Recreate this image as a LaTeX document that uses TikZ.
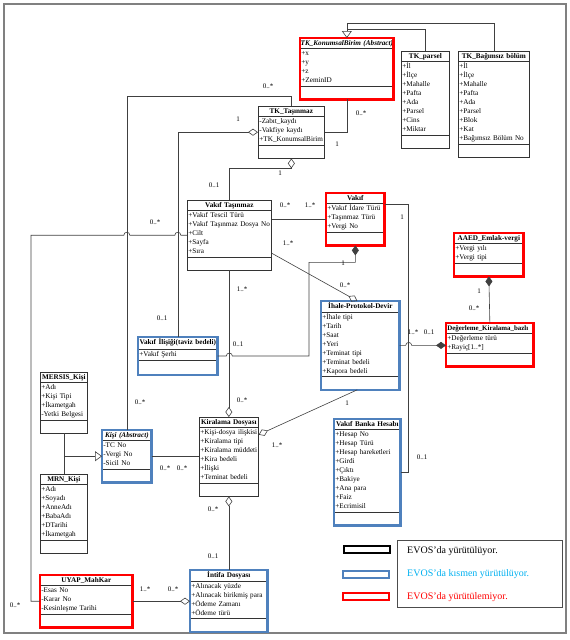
\documentclass[tikz,border=0pt]{standalone}
\usepackage{fontspec}
\setmainfont{Liberation Serif}
\usetikzlibrary{shapes.multipart,arrows.meta}
\definecolor{evosblue}{RGB}{79,129,189}
\definecolor{evoscyan}{RGB}{0,176,240}
\newcommand{\ctitle}[1]{\makebox[\linewidth]{\textbf{#1}}\rule[-2.8pt]{0pt}{8.6pt}}
\newcommand{\cattr}[1]{\begin{tabular}{@{}l@{}}#1\end{tabular}}
\newcommand{\cend}{\rule{0pt}{11pt}}
\tikzset{
  umlclass/.style={rectangle split, rectangle split parts=3, draw=black!80, line width=0.7pt,
    text width=#1, inner xsep=1pt, inner ysep=0.5pt, anchor=north west,
    font=\fontsize{7.2}{9}\selectfont},
  evosno/.style={draw=red, line width=2.5pt},
  evospart/.style={draw=evosblue, line width=2.5pt},
  conn/.style={draw=black!75, line width=0.6pt},
  agg/.style={conn, -{Diamond[open,length=10pt,width=7pt]}},
  comp/.style={conn, -{Diamond[length=10pt,width=7pt]}},
  gen/.style={conn, -{Triangle[open,length=7pt,width=10pt]}},
  mult/.style={font=\fontsize{7}{8}\selectfont, inner sep=0pt},
  legkey/.style={minimum width=46pt, minimum height=7pt, inner sep=0pt, line width=2.2pt},
  legtext/.style={anchor=west, inner sep=0pt, font=\fontsize{10}{12}\selectfont}
}
\begin{document}
\begin{tikzpicture}[x=1pt,y=-1pt]
\useasboundingbox (0,0) rectangle (570,640);
% Frame
\draw[gray, line width=1.2pt] (4,4) rectangle (566,633);

% Classes
\node[umlclass=91pt] (konum) at (300,38) {\ctitle{\textit{TK\_KonumsalBirim (Abstract)}}\nodepart{two}\cattr{+x\\+y\\+z\\+ZeminID}\nodepart{three}\cend};
\node[umlclass=46pt] (parsel) at (401,51) {\ctitle{TK\_parsel}\nodepart{two}\cattr{+İl\\+İlçe\\+Mahalle\\+Pafta\\+Ada\\+Parsel\\+Cins\\+Miktar}\nodepart{three}\cend};
\node[umlclass=69pt] (bagimsiz) at (458,51) {\ctitle{TK\_Bağımsız bölüm}\nodepart{two}\cattr{+İl\\+İlçe\\+Mahalle\\+Pafta\\+Ada\\+Parsel\\+Blok\\+Kat\\+Bağımsız Bölüm No}\nodepart{three}\cend};
\node[umlclass=64pt] (tktas) at (258,106) {\ctitle{TK\_Taşınmaz}\nodepart{two}\cattr{-Zabıt\_kaydı\\-Vakfiye kaydı\\+TK\_KonumsalBirim}\nodepart{three}\cend};
\node[umlclass=82pt] (vtas) at (187,200) {\ctitle{Vakıf Taşınmaz}\nodepart{two}\cattr{+Vakıf Tescil Türü\\+Vakıf Taşınmaz Dosya No\\+Cilt\\+Sayfa\\+Sıra}\nodepart{three}\cend};
\node[umlclass=56pt] (vakif) at (326,193) {\ctitle{Vakıf}\nodepart{two}\cattr{+Vakıf İdare Türü\\+Taşınmaz Türü\\+Vergi No}\nodepart{three}\cend};
\node[umlclass=67pt] (aaed) at (454,233) {\ctitle{AAED\_Emlak-vergi}\nodepart{two}\cattr{+Vergi yılı\\+Vergi tipi}\nodepart{three}\cend};
\node[umlclass=76pt] (ihale) at (321,301) {\ctitle{İhale-Protokol-Devir}\nodepart{two}\cattr{+İhale tipi\\+Tarih\\+Saat\\+Yeri\\+Teminat tipi\\+Teminat bedeli\\+Kapora bedeli}\nodepart{three}\cend};
\node[umlclass=85pt] (deger) at (446,323) {\makebox[\linewidth][l]{\fontsize{6.9}{9}\selectfont\textbf{Değerleme\_Kiralama\_bazlı}}\rule[-2.8pt]{0pt}{8.6pt}\nodepart{two}\cattr{+Değerleme türü\\+Rayiç[1..*]}\nodepart{three}\cend};
\node[umlclass=77pt] (vilisk) at (138,337) {\ctitle{Vakıf İlişiği(taviz bedeli)}\rule[-4pt]{0pt}{10pt}\nodepart{two}\cattr{+Vakıf Şerhi}\nodepart{three}\rule{0pt}{13pt}};
\node[umlclass=57pt] (kira) at (199,417) {\ctitle{Kiralama Dosyası}\nodepart{two}\cattr{+Kişi-dosya ilişkisi\\+Kiralama tipi\\+Kiralama müddeti\\+Kira bedeli\\+İlişki\\+Teminat bedeli}\nodepart{three}\cend};
\node[umlclass=47pt] (kisi) at (102,430) {\ctitle{\textit{Kişi (Abstract)}}\nodepart{two}\cattr{-TC No\\-Vergi No\\-Sicil No}\nodepart{three}\cend};
\node[umlclass=45pt] (mersis) at (40,372) {\ctitle{MERSIS\_Kişi}\nodepart{two}\cattr{+Adı\\+Kişi Tipi\\+İkametgah\\-Yetki Belgesi}\nodepart{three}\cend};
\node[umlclass=45pt] (mrn) at (40,474) {\ctitle{MRN\_Kişi}\nodepart{two}\cattr{+Adı\\+Soyadı\\+AnneAdı\\+BabaAdı\\+DTarihi\\+İkametgah}\nodepart{three}\cend};
\node[umlclass=64pt] (banka) at (334,419) {\ctitle{Vakıf Banka Hesabı}\nodepart{two}\cattr{+Hesap No\\+Hesap Türü\\+Hesap hareketleri\\+Girdi\\+Çıktı\\+Bakiye\\+Ana para\\+Faiz\\+Ecrimisil}\nodepart{three}\cend};
\node[umlclass=90pt] (uyap) at (40,575) {\ctitle{UYAP\_MahKar}\nodepart{two}\cattr{-Esas No\\-Karar No\\-Kesinleşme Tarihi}\nodepart{three}\cend};
\node[umlclass=75pt] (intifa) at (190,570) {\ctitle{İntifa Dosyası}\nodepart{two}\cattr{+Alınacak yüzde\\+Alınacak birikmiş para\\+Ödeme Zamanı\\+Ödeme türü}\nodepart{three}\cend};

% Status borders
\foreach \n in {konum,vakif,aaed,deger,uyap}
  \draw[evosno] (\n.north west) rectangle (\n.south east);
\foreach \n in {ihale,vilisk,kisi,banka,intifa}
  \draw[evospart] (\n.north west) rectangle (\n.south east);

% Generalizations
\draw[gen] (bagimsiz.north) -- ++(0,-28) -| (konum.north);
\draw[conn] (parsel.north) -- ++(0,-22) -- ([yshift=9pt]konum.north);
\draw[conn] (mersis.south) -- (mrn.north);
\draw[gen] (mersis.south |- kisi.west) -- (kisi.west);

% Associations
\draw[conn] (tktas.east) -| (konum.south);
\draw[conn] (kisi.north) |- ([yshift=10pt]tktas.north) -- (tktas.north);
\draw[agg] (vilisk.north) |- (tktas.west);
\draw[agg] (vtas.north) |- ([yshift=-10pt]tktas.south) -- (tktas.south);
\draw[conn] (uyap.west) -- ++(-9,0) |- ([xshift=-3pt]kisi.north |- vtas.west)
  arc[start angle=180,end angle=0,radius=3pt] -- ([xshift=-3pt]vilisk.north |- vtas.west)
  arc[start angle=180,end angle=0,radius=3pt] -- (vtas.west);
\draw[conn] (vakif.west) -- (vakif.west -| vtas.east);
\draw[agg] ([yshift=-18pt]vtas.east) -- ([xshift=-3pt]ihale.north);
\draw[comp] (vilisk.east) -- ([xshift=-3pt]vtas.south |- vilisk.east)
  arc[start angle=180,end angle=0,radius=3pt] -- ([xshift=-12pt]ihale.west |- vilisk.east)
  |- ([yshift=-17pt]vakif.south) -- (vakif.south);
\draw[conn] ([yshift=15pt]vakif.east) -- ++(24,0) |- (banka.east);
\draw[comp] (ihale.east) -- ([xshift=6pt]ihale.east)
  arc[start angle=180,end angle=0,radius=3pt] -- (deger.west |- ihale.east);
\draw[comp] (deger.north) -- (aaed.south);
\draw[agg] (vtas.south -| kira.north) -- (kira.north);
\draw[agg] ([xshift=-3pt]ihale.south) -- ([yshift=22pt]kira.east);
\draw[conn] (kisi.east) -- (kira.west |- kisi.east);
\draw[agg] (intifa.north) -- (kira.south);
\draw[agg] (uyap.east) -- (intifa.west |- uyap.east);

% Multiplicities
\foreach \x/\y/\txt [count=\i] in {361/113/0..*, 337/144/1, 268/86/0..*, 238/119/1,
    214/185/0..1, 280/173/1, 155/222/0..*, 285/205/0..*, 310/205/1..*, 402/217/1,
    288/243/1..*, 343/263/1, 345/285/0..*, 242/289/1..*, 479/291/1, 474/308/0..*,
    162/318/0..1, 413/332/1..*, 429/332/0..1, 238/344/0..1, 140/402/0..*, 242/400/0..*,
    347/403/1, 277/445/1..*, 422/457/0..1, 165/468/0..*, 182/468/0..*, 213/509/0..*,
    213/556/0..1, 145/589/1..*, 173/589/0..*, 15/605/0..*}
  \node[mult] (lab\i) at (\x,\y) {\txt};

% Legend
\node[draw=black!70, line width=0.6pt, minimum width=165pt, minimum height=67pt,
  inner sep=0pt, anchor=north west] (legend) at (397,540) {};
\node[legkey, draw=black] (keyok) at (367,549.5) {};
\node[legkey, draw=evosblue] (keypart) at (366,574.5) {};
\node[legkey, draw=red] (keyno) at (366,596.5) {};
\node[legtext, text=black] (legok) at (407,551) {EVOS’da yürütülüyor.};
\node[legtext, text=evoscyan] (legpart) at (407,574) {EVOS’da kısmen yürütülüyor.};
\node[legtext, text=red] (legno) at (407,597) {EVOS’da yürütülemiyor.};
\end{tikzpicture}
\end{document}
